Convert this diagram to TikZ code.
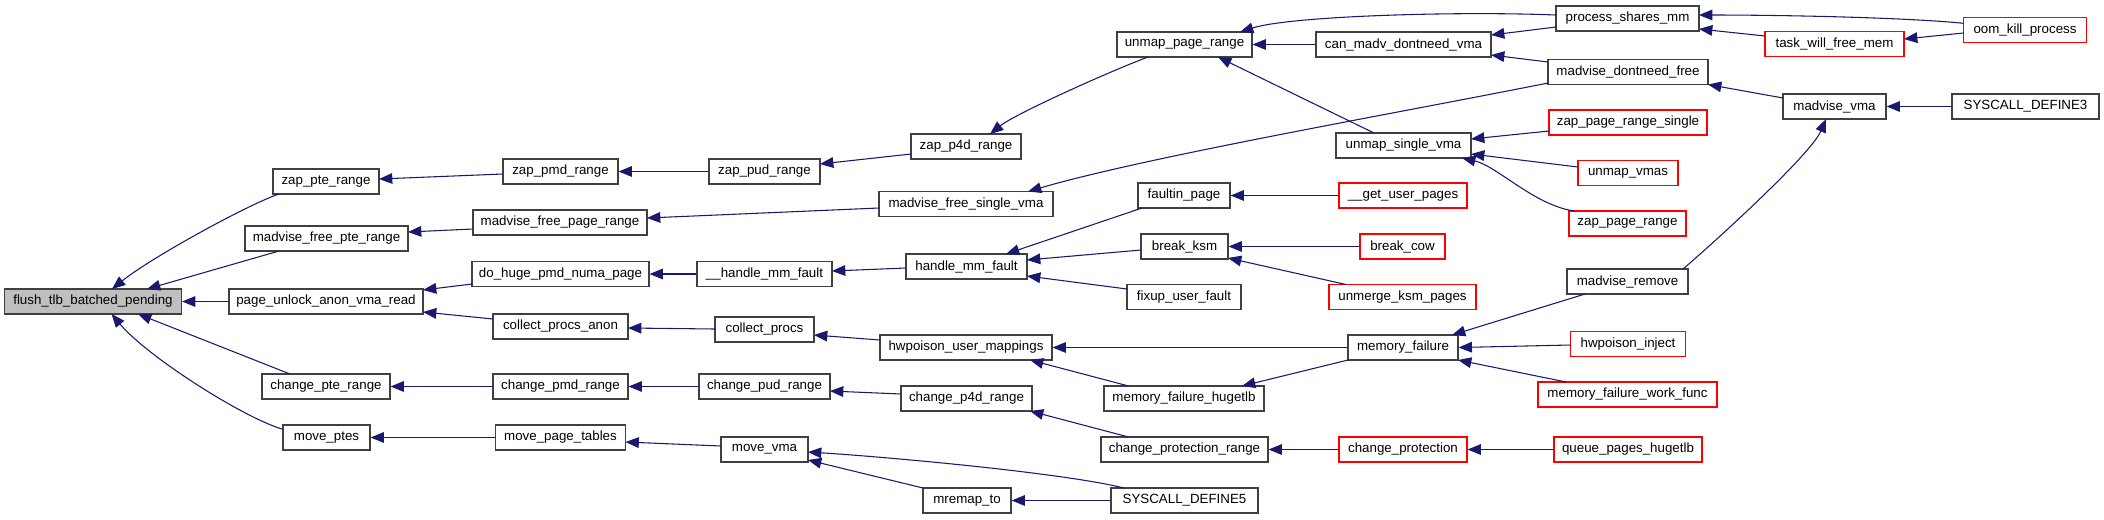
\documentclass[tikz,border=0pt]{standalone}
\usepackage{fontspec}
\setmainfont{Liberation Sans}
\usetikzlibrary{arrows.meta,calc}
\definecolor{navy}{RGB}{25,25,112}
\definecolor{boxgray}{RGB}{64,64,64}
\definecolor{rootgray}{RGB}{191,191,191}
\begin{document}
\begin{tikzpicture}[x=0.75pt,y=-0.75pt,
  fn/.style={draw=boxgray,line width=0.9pt,fill=white,minimum height=18.75pt,inner sep=0pt,font=\fontsize{10}{12}\selectfont},
  rfn/.style={fn,draw=red},
  root/.style={fn,fill=rootgray},
  wd/.style={minimum width=#1*0.75pt},
  cl/.style={draw=navy,line width=0.8pt,-{Triangle[length=10pt,width=8pt]}}]
\fill[white] (0,0) rectangle (2104,519);
\useasboundingbox (0,0) rectangle (2104,519);
% column 0
\node[root,wd=177] (flush) at (93,301.5) {flush\_tlb\_batched\_pending};
% column 1
\node[fn,wd=106] (zapte) at (326,181.5) {zap\_pte\_range};
\node[fn,wd=163] (mfpte) at (326.5,238.5) {madvise\_free\_pte\_range};
\node[fn,wd=194] (pua) at (326,301.5) {page\_unlock\_anon\_vma\_read};
\node[fn,wd=128] (chpte) at (326,386.5) {change\_pte\_range};
\node[fn,wd=87] (mvptes) at (326.5,437.5) {move\_ptes};
% column 2
\node[fn,wd=115] (zapmd) at (560.5,171.5) {zap\_pmd\_range};
\node[fn,wd=174] (mfpr) at (560,222.5) {madvise\_free\_page\_range};
\node[fn,wd=177] (dhpnp) at (560.5,274) {do\_huge\_pmd\_numa\_page};
\node[fn,wd=135] (cpa) at (560.5,326.5) {collect\_procs\_anon};
\node[fn,wd=135] (chpmd) at (560.5,386.5) {change\_pmd\_range};
\node[fn,wd=130] (mpt) at (560.5,437.5) {move\_page\_tables};
% column 3
\node[fn,wd=111] (zapud) at (764.5,171.5) {zap\_pud\_range};
\node[fn,wd=135] (hmfu) at (764.5,274) {\_\_handle\_mm\_fault};
\node[fn,wd=99] (cprocs) at (764.5,329.5) {collect\_procs};
\node[fn,wd=131] (chpud) at (764.5,386.5) {change\_pud\_range};
\node[fn,wd=87] (mvma) at (764.5,449.5) {move\_vma};
% column 4
\node[fn,wd=110] (zap4d) at (966,146.5) {zap\_p4d\_range};
\node[fn,wd=174] (mfsv) at (966,204) {madvise\_free\_single\_vma};
\node[fn,wd=121] (hmf) at (966.5,266.5) {handle\_mm\_fault};
\node[fn,wd=172] (hum) at (966,347.5) {hwpoison\_user\_mappings};
\node[fn,wd=131] (chp4d) at (966.5,398.5) {change\_p4d\_range};
\node[fn,wd=88] (mremap) at (967,500.5) {mremap\_to};
% column 5
\node[fn,wd=135] (upr) at (1184.5,44.5) {unmap\_page\_range};
\node[fn,wd=92] (faultin) at (1184,195.5) {faultin\_page};
\node[fn,wd=87] (bksm) at (1184.5,246.5) {break\_ksm};
\node[fn,wd=114] (fuf) at (1184,297) {fixup\_user\_fault};
\node[fn,wd=160] (mfh) at (1184,398.5) {memory\_failure\_hugetlb};
\node[fn,wd=167] (cpr) at (1184.5,449.5) {change\_protection\_range};
\node[fn,wd=147] (sd5) at (1184.5,500.5) {SYSCALL\_DEFINE5};
% column 6
\node[fn,wd=175] (cmdv) at (1403.5,44.5) {can\_madv\_dontneed\_vma};
\node[fn,wd=135] (usv) at (1403.5,145.5) {unmap\_single\_vma};
\node[rfn,wd=128] (gup) at (1403,195.5) {\_\_get\_user\_pages};
\node[rfn,wd=85] (bcow) at (1402.5,246.5) {break\_cow};
\node[rfn,wd=147] (umksm) at (1402.5,297) {unmerge\_ksm\_pages};
\node[fn,wd=110] (mf) at (1403,347.5) {memory\_failure};
\node[rfn,wd=128] (cprot) at (1403,449.5) {change\_protection};
% column 7
\node[fn,wd=143] (psm) at (1627.5,18.5) {process\_shares\_mm};
\node[fn,wd=160] (mdf) at (1628,72) {madvise\_dontneed\_free};
\node[rfn,wd=158] (zprs) at (1628,122.5) {zap\_page\_range\_single};
\node[rfn,wd=100] (uvmas) at (1628,173) {unmap\_vmas};
\node[rfn,wd=117] (zpr) at (1627.5,223.5) {zap\_page\_range};
\node[fn,wd=121] (mrem) at (1627.5,281.5) {madvise\_remove};
\node[rfn,wd=115] (hwi) at (1628,344) {hwpoison\_inject};
\node[rfn,wd=179] (mfwf) at (1627.5,394.5) {memory\_failure\_work\_func};
\node[rfn,wd=148] (qph) at (1628,449.5) {queue\_pages\_hugetlb};
% column 8
\node[rfn,wd=139] (twfm) at (1834.5,44) {task\_will\_free\_mem};
\node[fn,wd=103] (mvmaf) at (1834.5,106.5) {madvise\_vma};
% column 9
\node[rfn,wd=123] (oom) at (2025,30) {oom\_kill\_process};
\node[fn,wd=147] (sd3) at (2025.5,106.5) {SYSCALL\_DEFINE3};
% edges
\draw[cl] ($(zapte)+(-47,12.5)$) .. controls +(-30,10) and +(40,-32) .. ($(flush)+(19,-12.5)$);
\draw[cl] ($(mfpte)+(-47.5,12.5)$) -- ($(flush)+(54,-12.5)$);
\draw[cl] (pua.west) -- (flush.east);
\draw[cl] ($(chpte)+(-36,-12.5)$) -- ($(flush)+(45,12.5)$);
\draw[cl] ($(mvptes)+(-44.5,-8.5)$) .. controls +(-40,-12) and +(35,42) .. ($(flush)+(18.6,12.5)$);
\draw[cl] ($(zapmd)+(-57.5,2.5)$) -- ($(zapte)+(53,-2.5)$);
\draw[cl] (zapud.west) -- (zapmd.east);
\draw[cl] ($(zap4d)+(-55,7.5)$) -- ($(zapud)+(55.5,-7.5)$);
\draw[cl] ($(upr)+(-36.5,12.5)$) .. controls +(-40,15) and +(25,-20) .. ($(zap4d)+(24,-12.5)$);
\draw[cl] ($(psm)+(-71.5,-3.5)$) .. controls +(-100,-4) and +(50,-16) .. ($(upr)+(55.5,-12.5)$);
\draw[cl] (cmdv.west) -- (upr.east);
\draw[cl] ($(usv)+(-29.5,-12.5)$) -- ($(upr)+(33.5,12.5)$);
\draw[cl] ($(psm)+(-71.5,8.5)$) -- ($(cmdv)+(87.5,-9.5)$);
\draw[cl] ($(mdf)+(-80,-10)$) -- ($(cmdv)+(87.5,10.5)$);
\draw[cl] ($(oom)+(-61.5,-6.7)$) .. controls +(-60,-6) and +(80,0) .. ($(psm)+(71.5,-3.5)$);
\draw[cl] ($(twfm)+(-69.5,-8)$) -- ($(psm)+(71.5,10.5)$);
\draw[cl] ($(oom)+(-61.5,3)$) -- ($(twfm)+(69.5,-5)$);
\draw[cl] ($(mvmaf)+(-51.5,-8.5)$) -- ($(mdf)+(80,12.5)$);
\draw[cl] (sd3.west) -- (mvmaf.east);
\draw[cl] ($(mrem)+(55.5,-12.5)$) .. controls +(35,-30) and +(-15,35) .. ($(mvmaf)+(-8.5,12.5)$);
\draw[cl] ($(mdf)+(-80,11)$) .. controls +(-150,30) and +(120,-35) .. ($(mfsv)+(62,-12.5)$);
\draw[cl] ($(mfpr)+(-87,6.5)$) -- ($(mfpte)+(81.5,-6.5)$);
\draw[cl] ($(mfsv)+(-87,4)$) -- ($(mfpr)+(87,-4.5)$);
\draw[cl] ($(zprs)+(-79,8.5)$) -- ($(usv)+(67.5,-6.5)$);
\draw[cl] ($(uvmas)+(-50,-6)$) -- ($(usv)+(67.5,8.5)$);
\draw[cl] ($(zpr)+(-53.5,-12.5)$) .. controls +(-40,-6) and +(35,8) .. ($(usv)+(58.5,12.5)$);
\draw[cl] ($(dhpnp)+(-88.5,10)$) -- ($(pua)+(97,-11.5)$);
\draw[cl] ($(cpa)+(-67.5,-7.5)$) -- ($(pua)+(97,10.5)$);
\draw[cl] (hmfu.west) -- (dhpnp.east);
\draw[cl] ($(hmf)+(-60.5,1.5)$) -- ($(hmfu)+(67.5,-3)$);
\draw[cl] ($(faultin)+(-42,12.5)$) -- ($(hmf)+(39.5,-12.5)$);
\draw[cl] ($(bksm)+(-43.5,3.5)$) -- ($(hmf)+(60.5,-6.5)$);
\draw[cl] ($(fuf)+(-57,-8)$) -- ($(hmf)+(60.5,9.5)$);
\draw[cl] (gup.west) -- (faultin.east);
\draw[cl] (bcow.west) -- (bksm.east);
\draw[cl] ($(umksm)+(-56.5,-12.5)$) -- ($(bksm)+(43.5,11.5)$);
\draw[cl] ($(cprocs)+(-49.5,-0.5)$) -- ($(cpa)+(67.5,1.5)$);
\draw[cl] ($(hum)+(-86,-7.5)$) -- ($(cprocs)+(49.5,5.5)$);
\draw[cl] (mf.west) -- (hum.east);
\draw[cl] ($(mfh)+(-55.4,-12.5)$) -- ($(hum)+(64,12.5)$);
\draw[cl] ($(mf)+(-55,12.5)$) -- ($(mfh)+(58,-12.5)$);
\draw[cl] ($(mrem)+(-42.5,12.5)$) -- ($(mf)+(49,-12.5)$);
\draw[cl] ($(hwi)+(-57.5,1)$) -- (mf.east);
\draw[cl] ($(mfwf)+(-61.5,-12.5)$) -- ($(mf)+(55,12.5)$);
\draw[cl] (chpmd.west) -- (chpte.east);
\draw[cl] (chpud.west) -- (chpmd.east);
\draw[cl] ($(chp4d)+(-65.5,-4.5)$) -- ($(chpud)+(65.5,4.5)$);
\draw[cl] ($(cpr)+(-56,-12.5)$) -- ($(chp4d)+(63.5,12.5)$);
\draw[cl] (cprot.west) -- (cpr.east);
\draw[cl] (qph.west) -- (cprot.east);
\draw[cl] (mpt.west) -- (mvptes.east);
\draw[cl] ($(mvma)+(-43.5,-3.5)$) -- ($(mpt)+(65,4.5)$);
\draw[cl] ($(sd5)+(-60.5,-12.5)$) .. controls +(-60,-15) and +(80,5) .. ($(mvma)+(43.5,2.5)$);
\draw[cl] ($(mremap)+(-44,-12.5)$) -- ($(mvma)+(43.5,10.5)$);
\draw[cl] (sd5.west) -- (mremap.east);
\end{tikzpicture}
\end{document}
